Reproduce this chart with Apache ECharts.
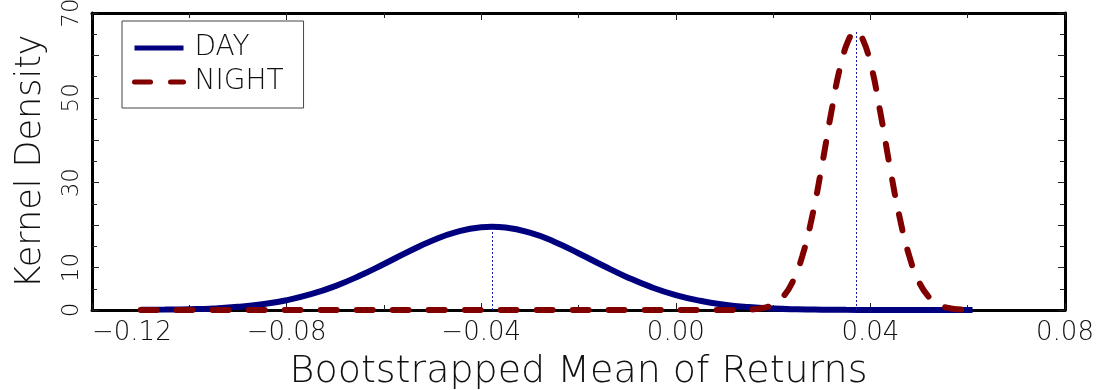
<!DOCTYPE html>
<html>
<head>
<meta charset="utf-8">
<script src="https://cdn.jsdelivr.net/npm/echarts@6/dist/echarts.min.js"></script>
<style>
html,body{margin:0;padding:0;background:#fff;}
#chart{width:1100px;height:390px;}
</style>
</head>
<body>
<div id="chart"></div>
<script>
// ---- data ----
const seriesNames = ['DAY', 'NIGHT'];
const dayX = [-0.110,-0.105,-0.100,-0.095,-0.090,-0.085,-0.080,-0.075,-0.070,-0.065,-0.060,-0.055,-0.050,-0.045,-0.040,-0.0378,-0.035,-0.030,-0.025,-0.020,-0.015,-0.010,-0.005,0.000,0.005,0.010,0.015,0.020,0.025,0.030,0.035,0.040,0.045,0.050,0.055,0.061];
const dayY = [0.04,0.09,0.19,0.38,0.74,1.35,2.31,3.72,5.64,8.06,10.84,13.74,16.39,18.42,19.49,19.6,19.42,18.22,16.10,13.39,10.49,7.74,5.38,3.52,2.17,1.26,0.69,0.35,0.17,0.08,0.03,0.01,0,0,0,0];
const nightX = [-0.110,-0.090,-0.070,-0.050,-0.030,-0.010,0.010,0.014,0.016,0.018,0.020,0.022,0.024,0.026,0.028,0.030,0.032,0.034,0.036,0.037,0.038,0.040,0.042,0.044,0.046,0.048,0.050,0.052,0.054,0.056,0.058,0.061];
const nightY = [0,0,0,0,0,0,0,0.05,0.16,0.49,1.29,3.08,6.61,12.69,21.88,33.78,46.84,58.21,64.91,65.8,64.91,58.21,46.84,33.78,21.88,12.69,6.61,3.08,1.29,0.49,0.16,0.05];
const meanX = [-0.0378, 0.037];
const meanPeak = [19.6, 65.8];
const xTicks = [-0.12, -0.08, -0.04, 0.00, 0.04, 0.08];
const yLabelValues = [0, 10, 30, 50, 70];
const xTitle = 'Bootstrapped Mean of Returns';
const yTitle = 'Kernel Density';

const FONT = "'DejaVu Sans'";
const W = 200;
function fmtX(v){ const s = Math.abs(v).toFixed(2); return (v < -1e-9 ? '\u2212' : '') + s; }
function zip(a,b){ return a.map((v,i)=>[v,b[i]]); }

const chart = echarts.init(document.getElementById('chart'), null, {renderer:'canvas'});
const axisLine = {show:true, onZero:false, lineStyle:{color:'#000', width:3}};
const tickStyle = {color:'#222', width:1};
chart.setOption({
  animation:false,
  backgroundColor:'#fff',
  grid:{left:92, right:35, top:13, bottom:80, containLabel:false, outerBoundsMode:'none'},
  legend:{
    left:122, top:21, orient:'vertical',
    data:seriesNames,
    itemWidth:49, itemHeight:6, itemGap:6,
    padding:[13,20,12,10],
    borderColor:'#444', borderWidth:1,
    itemStyle:{color:'rgba(0,0,0,0)', borderWidth:0, opacity:0},
    lineStyle:{width:5},
    textStyle:{fontFamily:FONT, fontWeight:W, fontSize:28, color:'#111', padding:[0,0,0,6]}
  },
  xAxis:[{
    type:'value', min:xTicks[0], max:xTicks[xTicks.length-1], interval:0.04,
    position:'bottom',
    axisLine:axisLine,
    axisTick:{show:true, inside:true, length:7, lineStyle:tickStyle},
    minorTick:{show:true, splitNumber:2, length:5, lineStyle:tickStyle},
    splitLine:{show:false},
    axisLabel:{show:true, margin:10, formatter:fmtX, fontFamily:FONT, fontWeight:W, fontSize:26, color:'#111', alignMinLabel:'left'},
    name:xTitle, nameLocation:'middle', nameGap:43,
    nameTextStyle:{fontFamily:FONT, fontWeight:W, fontSize:38, color:'#111'}
  },{
    type:'value', min:xTicks[0], max:xTicks[xTicks.length-1], interval:0.04,
    position:'top',
    axisLine:axisLine,
    axisTick:{show:true, inside:true, length:7, lineStyle:tickStyle},
    minorTick:{show:true, splitNumber:2, length:5, lineStyle:tickStyle},
    splitLine:{show:false}, axisLabel:{show:false}
  }],
  yAxis:[{
    type:'value', min:0, max:70, interval:10,
    position:'left',
    axisLine:axisLine,
    axisTick:{show:true, inside:true, length:7, lineStyle:tickStyle},
    minorTick:{show:true, splitNumber:2, length:5, lineStyle:tickStyle},
    splitLine:{show:false},
    axisLabel:{show:true, rotate:90, margin:8, fontFamily:FONT, fontWeight:W, fontSize:23, color:'#111',
      formatter:function(v){ return yLabelValues.indexOf(Math.round(v))>=0 ? String(Math.round(v)) : ''; }},
    name:yTitle, nameLocation:'middle', nameGap:44, nameRotate:90,
    nameTextStyle:{fontFamily:FONT, fontWeight:W, fontSize:35, color:'#111'}
  },{
    type:'value', min:0, max:70, interval:10,
    position:'right',
    axisLine:axisLine,
    axisTick:{show:true, inside:true, length:7, lineStyle:tickStyle},
    minorTick:{show:true, splitNumber:2, length:5, lineStyle:tickStyle},
    splitLine:{show:false}, axisLabel:{show:false}
  }],
  series:[{
    name:seriesNames[0], type:'line', showSymbol:false, symbol:'none', smooth:true,
    data:zip(dayX, dayY),
    lineStyle:{color:'#00007f', width:6},
    itemStyle:{color:'#00007f'},
    markLine:{
      silent:true, symbol:['none','none'], label:{show:false},
      lineStyle:{color:'#1a1aa8', width:1, type:[2,2]},
      data:meanX.map((m,i)=>[{coord:[m,0]},{coord:[m,meanPeak[i]]}])
    },
    z:3
  },{
    name:seriesNames[1], type:'line', showSymbol:false, symbol:'none', smooth:true,
    data:zip(nightX, nightY),
    lineStyle:{color:'#800000', width:6, type:[16,20], cap:'round'},
    itemStyle:{color:'#800000'},
    z:4
  }]
});
</script>
</body>
</html>
